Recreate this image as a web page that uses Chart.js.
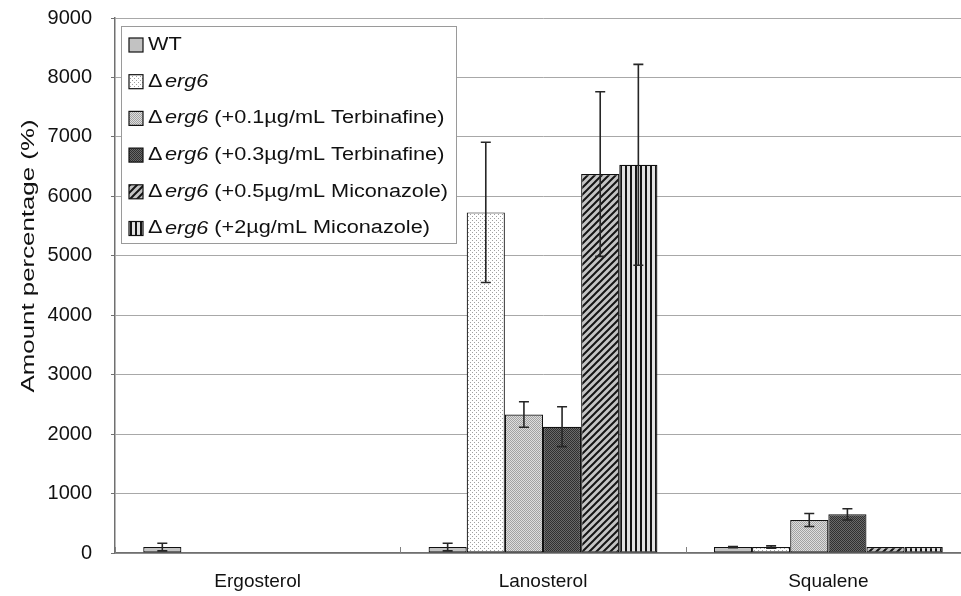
<!DOCTYPE html>
<html>
<head>
<meta charset="utf-8">
<script src="https://cdn.jsdelivr.net/npm/chart.js@4.4.1/dist/chart.umd.min.js"></script>
<style>
  html, body { margin: 0; padding: 0; background: #ffffff; overflow: hidden; }
  #wrap { width: 961px; height: 596px; position: relative; overflow: hidden; }
  #chart { position: absolute; left: 0; top: 0; }
</style>
</head>
<body>
<div id="wrap"><canvas id="chart" width="971" height="596"></canvas></div>
<script>
// Sterol categories on the x axis
const categories = ['Ergosterol', 'Lanosterol', 'Squalene'];

// Strain / treatment series
const seriesNames = [
  'WT',
  'Δerg6',
  'Δerg6 (+0.1µg/mL Terbinafine)',
  'Δerg6 (+0.3µg/mL Terbinafine)',
  'Δerg6 (+0.5µg/mL Miconazole)',
  'Δerg6 (+2µg/mL Miconazole)'
];

// Mean amount percentage (%) per series, in category order
const wtValues      = [100, 100, 100];
const erg6Values    = [0, 5730, 100];
const terb01Values  = [0, 2330, 555];
const terb03Values  = [0, 2125, 650];
const mic05Values   = [0, 6375, 100];
const mic2Values    = [0, 6530, 100];

// Standard deviations (error bars)
const wtErrors      = [65, 65, 10];
const erg6Errors    = [0, 1180, 20];
const terb01Errors  = [0, 215, 110];
const terb03Errors  = [0, 335, 95];
const mic05Errors   = [0, 1385, 0];
const mic2Errors    = [0, 1690, 0];

// Y axis tick values and title
const yTicks = [0, 1000, 2000, 3000, 4000, 5000, 6000, 7000, 8000, 9000];
const yTitle = 'Amount percentage (%)';

const FONT = '"Liberation Sans", Arial, sans-serif';

// ---- fill patterns ----
function makePattern(size, paint) {
  const c = document.createElement('canvas');
  c.width = size; c.height = size;
  const g = c.getContext('2d');
  paint(g, size);
  return g.createPattern(c, 'repeat');
}
const ctxMain = document.getElementById('chart').getContext('2d');

const fillWT = '#c2c2c2';
const fillDots = makePattern(4, (g, s) => {
  g.fillStyle = '#ffffff'; g.fillRect(0, 0, s, s);
  g.fillStyle = '#a0a0a0';
  g.fillRect(0, 0, 1, 1); g.fillRect(2, 2, 1, 1);
});
const fillLight = makePattern(2, (g, s) => {
  g.fillStyle = '#dedede'; g.fillRect(0, 0, s, s);
  g.fillStyle = '#a2a2a2';
  g.fillRect(0, 0, 1, 1); g.fillRect(1, 1, 1, 1);
});
const fillDark = makePattern(2, (g, s) => {
  g.fillStyle = '#6a6a6a'; g.fillRect(0, 0, s, s);
  g.fillStyle = '#303030';
  g.fillRect(0, 0, 1, 1); g.fillRect(1, 1, 1, 1);
});
const fillDiag = makePattern(7, (g, s) => {
  g.fillStyle = '#c4c4c4'; g.fillRect(0, 0, s, s);
  g.strokeStyle = '#151515'; g.lineWidth = 2;
  g.beginPath();
  for (let k = -1; k <= 1; k++) {
    g.moveTo(-1 + k * s, s + 1); g.lineTo(s + 1 + k * s, -1);
  }
  g.stroke();
});
const fillVert = makePattern(5, (g, s) => {
  g.fillStyle = '#e2e2e2'; g.fillRect(0, 0, s, s);
  g.fillStyle = '#151515'; g.fillRect(0, 0, 2, s);
});

const fills = [fillWT, fillDots, fillLight, fillDark, fillDiag, fillVert];
const valueSets = [wtValues, erg6Values, terb01Values, terb03Values, mic05Values, mic2Values];
const errorSets = [wtErrors, erg6Errors, terb01Errors, terb03Errors, mic05Errors, mic2Errors];

const datasets = seriesNames.map((name, i) => ({
  label: name,
  data: valueSets[i],
  errors: errorSets[i],
  backgroundColor: fills[i],
  borderColor: '#111111',
  borderWidth: 1.2,
  borderSkipped: false,
  barPercentage: 1.0,
  categoryPercentage: 0.802
}));

// Error bars drawn from each bar's position through the y scale
const errorBarPlugin = {
  id: 'errorBars',
  afterDatasetsDraw(chart) {
    const c = chart.ctx;
    const y = chart.scales.y;
    c.save();
    c.strokeStyle = '#262626';
    c.lineWidth = 1.6;
    chart.data.datasets.forEach((ds, i) => {
      const meta = chart.getDatasetMeta(i);
      meta.data.forEach((bar, j) => {
        const e = ds.errors[j];
        if (!e) return;
        const v = ds.data[j];
        const yTop = y.getPixelForValue(v + e);
        const yBot = y.getPixelForValue(v - e);
        const x = bar.x;
        c.beginPath();
        c.moveTo(x, yTop); c.lineTo(x, yBot);
        c.moveTo(x - 5, yTop); c.lineTo(x + 5, yTop);
        c.moveTo(x - 5, yBot); c.lineTo(x + 5, yBot);
        c.stroke();
      });
    });
    c.restore();
  }
};

// Small inward tick marks at category boundaries on the x axis
const xTickPlugin = {
  id: 'xBoundaryTicks',
  afterDraw(chart) {
    const c = chart.ctx, x = chart.scales.x, area = chart.chartArea;
    const half = (x.getPixelForValue(1) - x.getPixelForValue(0)) / 2;
    c.save();
    c.strokeStyle = '#808080'; c.lineWidth = 1;
    for (let i = 0; i <= categories.length; i++) {
      const px = Math.round(x.getPixelForValue(i) - half) + 0.5;
      c.beginPath(); c.moveTo(px, area.bottom); c.lineTo(px, area.bottom - 6); c.stroke();
    }
    c.restore();
  }
};

// Y axis title, set slightly above the axis centre and widened along its length
const yTitlePlugin = {
  id: 'yTitle',
  afterDraw(chart) {
    const c = chart.ctx;
    c.save();
    c.font = '19px ' + FONT;
    c.fillStyle = '#111111';
    c.textAlign = 'center'; c.textBaseline = 'middle';
    const w = c.measureText(yTitle).width;
    c.translate(28.5, 256);
    c.rotate(-Math.PI / 2);
    c.scale(273 / w, 1);
    c.fillText(yTitle, 0, 0);
    c.restore();
  }
};

// Boxed legend inside the plot, with the gene name set in italics
const boxLegendPlugin = {
  id: 'boxLegend',
  afterDraw(chart) {
    const c = chart.ctx;
    const left = 121, top = 26, w = 335, h = 217;
    const rowH = 36.7, first = 45;
    const normal = '18px ' + FONT, italic = 'italic 18px ' + FONT;
    c.save();
    c.fillStyle = '#ffffff';
    c.fillRect(left, top, w, h);
    c.strokeStyle = '#9a9a9a';
    c.lineWidth = 1;
    c.strokeRect(left + 0.5, top + 0.5, w, h);
    c.textBaseline = 'middle';

    // widen the legend text so the longest row spans the box
    const segs = label => {
      const k = label.indexOf('erg6');
      if (k < 0) return [[label, normal, 0]];
      return [[label.slice(0, k), normal, 2], ['erg6', italic, 0], [label.slice(k + 4), normal, 0]];
    };
    const rowWidth = label => segs(label).reduce((acc, [t, f, gap]) => {
      c.font = f; return acc + c.measureText(t).width + gap;
    }, 0);
    const sx = 300 / Math.max(...chart.data.datasets.map(d => rowWidth(d.label)));

    chart.data.datasets.forEach((ds, i) => {
      const cy = first + i * rowH;
      const bx = 129, bs = 14;
      c.fillStyle = ds.backgroundColor;
      c.fillRect(bx, cy - bs / 2, bs, bs);
      c.strokeStyle = '#111111';
      c.lineWidth = 1.2;
      c.strokeRect(bx, cy - bs / 2, bs, bs);
      c.fillStyle = '#111111';
      c.save();
      c.translate(148, cy);
      c.scale(sx, 1);
      let x = 0;
      segs(ds.label).forEach(([t, f, gap]) => {
        c.font = f; c.fillText(t, x, 0); x += c.measureText(t).width + gap;
      });
      c.restore();
    });
    c.restore();
  }
};

new Chart(ctxMain, {
  type: 'bar',
  data: { labels: categories, datasets },
  options: {
    responsive: false,
    animation: false,
    devicePixelRatio: 1,
    layout: { padding: { top: 18, right: 0, left: 0, bottom: 0 } },
    plugins: { legend: { display: false }, tooltip: { enabled: false } },
    scales: {
      x: {
        grid: { display: false, drawTicks: false, tickLength: 0 },
        border: { color: '#707070', width: 1.5 },
        ticks: { color: '#111111', font: { family: FONT, size: 19 }, padding: 17 },
        afterFit(s) { s.height = 43; }
      },
      y: {
        min: 0, max: 9000,
        afterBuildTicks(s) { s.ticks = yTicks.map(v => ({ value: v })); },
        grid: { color: '#a8a8a8', lineWidth: 1, tickLength: 4, tickColor: '#707070' },
        border: { color: '#707070', width: 1.5 },
        ticks: {
          color: '#111111', font: { family: FONT, size: 20 }, padding: 19,
          callback: v => String(v)
        },
        title: { display: false },
        afterFit(s) { s.width = 115; s.paddingTop = 0; s.paddingBottom = 0; }
      }
    }
  },
  plugins: [errorBarPlugin, xTickPlugin, yTitlePlugin, boxLegendPlugin]
});
</script>
</body>
</html>
